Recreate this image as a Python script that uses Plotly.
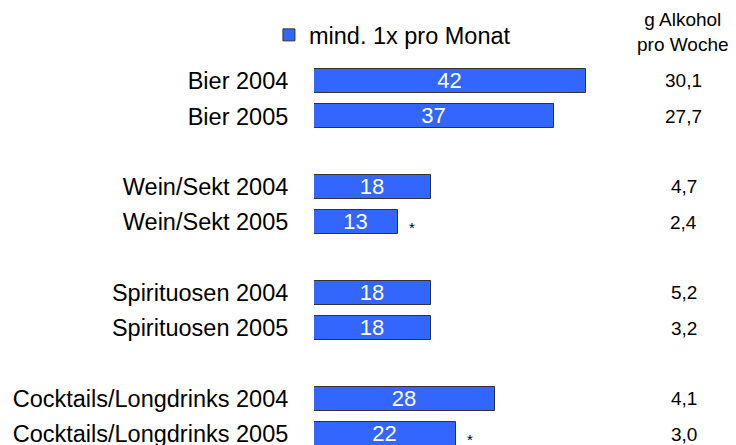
import plotly.graph_objects as go

categories = ["Bier 2004", "Bier 2005", "Wein/Sekt 2004", "Wein/Sekt 2005",
              "Spirituosen 2004", "Spirituosen 2005",
              "Cocktails/Longdrinks 2004", "Cocktails/Longdrinks 2005"]
positions = [0, 1, 3, 4, 6, 7, 9, 10]
monthly = [42, 37, 18, 13, 18, 18, 28, 22]
alcohol = ["30,1", "27,7", "4,7", "2,4", "5,2", "3,2", "4,1", "3,0"]
significant = [False, False, False, True, False, False, False, True]

FONT = "Arial, Liberation Sans, sans-serif"

fig = go.Figure()
fig.add_trace(go.Bar(
    y=positions, x=monthly, orientation="h", width=0.68,
    name="mind. 1x pro Monat",
    marker=dict(color="#3366FF", line=dict(color="#333333", width=1)),
    text=[str(v) for v in monthly], textposition="inside", insidetextanchor="middle",
    textangle=0, constraintext="none",
    textfont=dict(color="white", size=22, family=FONT),
    cliponaxis=False,
))

annotations = []
for p, a in zip(positions, alcohol):
    annotations.append(dict(x=57.1, y=p, xref="x", yref="y", text=a, showarrow=False,
                            xanchor="center", yanchor="middle",
                            font=dict(size=19, family=FONT, color="black")))
for p, v, s in zip(positions, monthly, significant):
    if s:
        annotations.append(dict(x=v, y=p, xref="x", yref="y", text="*", showarrow=False,
                                xanchor="center", yanchor="middle", xshift=14, yshift=-5,
                                font=dict(size=15, family=FONT, color="black")))
annotations.append(dict(x=56.9, y=0.99, xref="x", yref="paper", text="g Alkohol<br>pro Woche",
                        showarrow=False, xanchor="center", yanchor="middle",
                        font=dict(size=19, family=FONT, color="black")))
fig.update_layout(annotations=annotations)

# page body has an 8px default margin; size the figure to fill the rest of the window
fig.update_layout(
    width=728, height=437,
    margin=dict(l=306, r=1, t=20, b=0, autoexpand=False),
    paper_bgcolor="white", plot_bgcolor="white",
    bargap=0,
    font=dict(family=FONT, size=22, color="black"),
    showlegend=True,
    legend=dict(x=-0.107, y=0.983, xanchor="left", yanchor="middle",
                font=dict(size=23.5, family=FONT), bgcolor="rgba(0,0,0,0)"),
    xaxis=dict(range=[0, 65], visible=False, automargin=False),
    yaxis=dict(range=[10.31, -1.5], tickvals=positions, ticktext=categories,
               showgrid=False, zeroline=False, showline=False, automargin=False,
               ticks="outside", ticklen=0, ticklabelstandoff=20,
               ticklabeloverflow="allow",
               tickfont=dict(size=23.5, family=FONT)),
)

fig.write_html("out.html")
